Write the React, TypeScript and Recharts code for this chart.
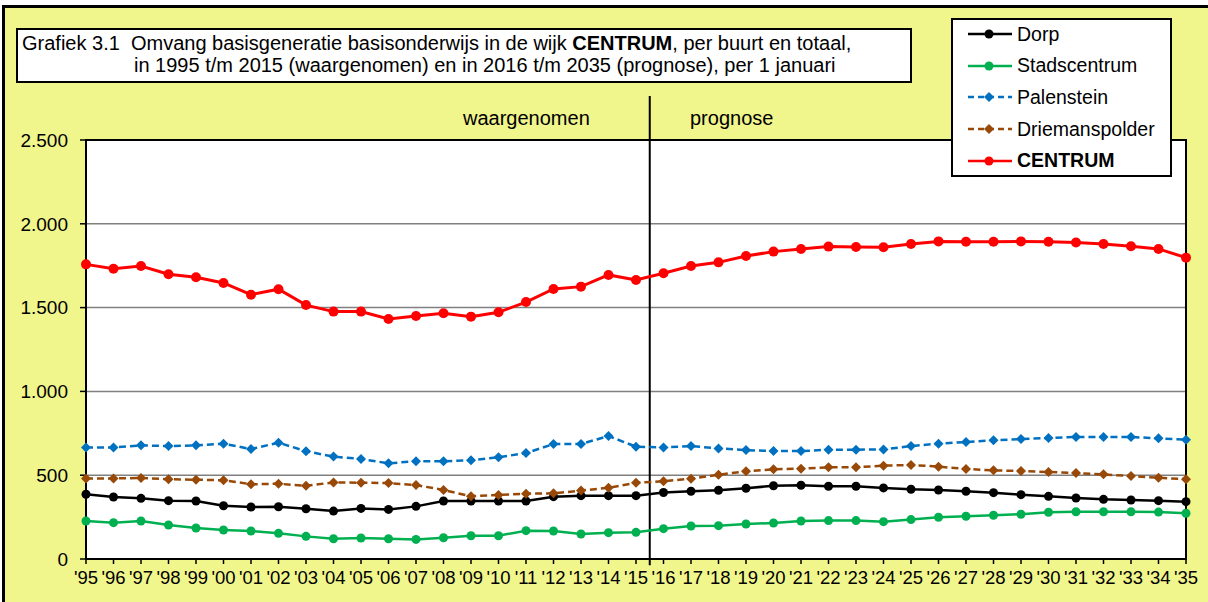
import React from "react";
import {
  LineChart,
  Line,
  XAxis,
  YAxis,
  CartesianGrid,
  ReferenceLine,
  ReferenceArea,
} from "recharts";

const YEAR_LABELS = [
  "'95", "'96", "'97", "'98", "'99", "'00", "'01", "'02", "'03", "'04",
  "'05", "'06", "'07", "'08", "'09", "'10", "'11", "'12", "'13", "'14",
  "'15", "'16", "'17", "'18", "'19", "'20", "'21", "'22", "'23", "'24",
  "'25", "'26", "'27", "'28", "'29", "'30", "'31", "'32", "'33", "'34", "'35",
];

const DORP = [
  386, 370, 362, 348, 346, 318, 310, 312, 300, 286,
  302, 296, 314, 346, 346, 346, 346, 372, 378, 378, 378,
  397, 404, 410, 422, 437, 440, 434, 434, 424, 416,
  412, 404, 396, 384, 374, 364, 356, 352, 348, 342,
];
const STADSCENTRUM = [
  227, 217, 227, 203, 185, 173, 167, 153, 135, 121,
  125, 121, 117, 127, 139, 139, 169, 167, 149, 157, 159,
  181, 197, 199, 209, 215, 227, 229, 229, 223, 235,
  249, 255, 261, 267, 279, 282, 282, 282, 280, 273,
];
const PALENSTEIN = [
  666, 666, 678, 674, 678, 688, 656, 694, 643, 611,
  597, 571, 583, 583, 589, 607, 632, 686, 686, 734, 670,
  666, 674, 660, 650, 644, 644, 652, 652, 654, 674,
  688, 698, 708, 716, 722, 728, 728, 728, 720, 712,
];
const DRIEMANSPOLDER = [
  481, 481, 483, 476, 473, 470, 446, 449, 437, 457,
  455, 453, 441, 412, 374, 382, 390, 392, 408, 425, 455,
  464, 479, 503, 523, 535, 539, 547, 547, 557, 561,
  551, 537, 529, 525, 519, 513, 505, 495, 485, 476,
];
const CENTRUM = [
  1758, 1732, 1748, 1699, 1681, 1647, 1577, 1610, 1515, 1476,
  1476, 1432, 1450, 1466, 1446, 1472, 1533, 1611, 1625, 1695, 1665,
  1705, 1748, 1770, 1808, 1834, 1850, 1864, 1862, 1860, 1880,
  1895, 1893, 1893, 1895, 1893, 1888, 1880, 1866, 1850, 1798,
];

const Y_TICKS = [0, 500, 1000, 1500, 2000, 2500];
const LAST_OBSERVED = 20; // index of '15

const data = YEAR_LABELS.map((label, i) => ({
  i,
  label,
  dorp: DORP[i],
  stad: STADSCENTRUM[i],
  palen: PALENSTEIN[i],
  dries: DRIEMANSPOLDER[i],
  centrum: CENTRUM[i],
}));

const FONT = '"Liberation Sans", Arial, Helvetica, sans-serif';
const BG = "#F0F58C";

const SERIES = [
  { key: "dorp", name: "Dorp", color: "#000000", dashed: false, diamond: false, bold: false },
  { key: "stad", name: "Stadscentrum", color: "#00B050", dashed: false, diamond: false, bold: false },
  { key: "palen", name: "Palenstein", color: "#0070C0", dashed: true, diamond: true, bold: false },
  { key: "dries", name: "Driemanspolder", color: "#984807", dashed: true, diamond: true, bold: false },
  { key: "centrum", name: "CENTRUM", color: "#FF0000", dashed: false, diamond: false, bold: true },
];

const fmt = (v: number) => String(v).replace(/\B(?=(\d{3})+(?!\d))/g, ".");

function diamondDot(color: string) {
  return (props: any) => {
    const { cx, cy, index } = props;
    if (cx == null || cy == null) return <g key={`e-${index}`} />;
    const r = 5;
    return (
      <path
        key={`dm-${color}-${index}`}
        d={`M${cx},${cy - r}L${cx + r},${cy}L${cx},${cy + r}L${cx - r},${cy}Z`}
        fill={color}
        stroke="none"
      />
    );
  };
}

function LegendBox() {
  return (
    <div
      style={{
        position: "absolute",
        left: 951,
        top: 18,
        width: 217,
        height: 155,
        border: "2px solid #000",
        background: "#fff",
        fontFamily: FONT,
        fontSize: 19.5,
      }}
    >
      {SERIES.map((s, i) => (
        <div
          key={s.key}
          style={{
            position: "absolute",
            left: 14,
            top: i * 31.7,
            height: 28,
            display: "flex",
            alignItems: "center",
          }}
        >
          <svg width={46} height={14} style={{ marginRight: 4 }}>
            <line
              x1={1}
              x2={45}
              y1={7}
              y2={7}
              stroke={s.color}
              strokeWidth={2.5}
              strokeDasharray={s.dashed ? "6 4" : undefined}
            />
            {s.diamond ? (
              <path d="M22,2L27,7L22,12L17,7Z" fill={s.color} />
            ) : (
              <circle cx={22} cy={7} r={4.5} fill={s.color} />
            )}
          </svg>
          <span style={{ fontWeight: s.bold ? "bold" : "normal" }}>{s.name}</span>
        </div>
      ))}
    </div>
  );
}

export default function App() {
  return (
    <div
      style={{
        position: "absolute",
        left: 0,
        top: 0,
        width: 1208,
        height: 602,
        background: "#fff",
        overflow: "hidden",
        fontFamily: FONT,
      }}
    >
      <div
        style={{
          position: "absolute",
          left: 2,
          top: 5,
          width: 1220,
          height: 620,
          border: "3px solid #000",
          background: BG,
        }}
      />
      <div style={{ position: "absolute", left: 0, top: 0 }}>
        <LineChart
          width={1208}
          height={602}
          data={data}
          margin={{ top: 140, right: 22, bottom: 0, left: 6 }}
        >
          <CartesianGrid
            horizontal
            vertical={false}
            stroke="#808080"
            strokeWidth={1.5}
            fill="#ffffff"
            fillOpacity={1}
          />
          <XAxis
            dataKey="i"
            type="number"
            domain={[0, YEAR_LABELS.length - 1]}
            ticks={data.map((d) => d.i)}
            interval={0}
            tickFormatter={(v: number) => YEAR_LABELS[v] ?? ""}
            height={43}
            tickSize={5}
            tickMargin={7}
            axisLine={{ stroke: "#000", strokeWidth: 2 }}
            tickLine={{ stroke: "#000", strokeWidth: 1.5 }}
            tick={{ fill: "#000", fontSize: 18.5, fontFamily: FONT }}
          />
          <YAxis
            domain={[0, 2500]}
            ticks={Y_TICKS}
            interval={0}
            width={80}
            tickFormatter={fmt}
            tickSize={6}
            tickMargin={12}
            axisLine={{ stroke: "#000", strokeWidth: 2 }}
            tickLine={{ stroke: "#000", strokeWidth: 1.5 }}
            tick={{ fill: "#000", fontSize: 19, fontFamily: FONT }}
          />
          <ReferenceArea
            x1={0}
            x2={YEAR_LABELS.length - 1}
            y1={0}
            y2={2500}
            fill="none"
            fillOpacity={0}
            stroke="#000"
            strokeWidth={2}
            ifOverflow="visible"
          />
          <ReferenceLine
            segment={[
              { x: LAST_OBSERVED + 0.5, y: -38 },
              { x: LAST_OBSERVED + 0.5, y: 2762 },
            ]}
            stroke="#000"
            strokeWidth={2}
            ifOverflow="visible"
          />
          {SERIES.map((s) => (
            <Line
              key={s.key}
              dataKey={s.key}
              name={s.name}
              stroke={s.color}
              strokeWidth={s.key === "centrum" ? 3 : 2.5}
              strokeDasharray={s.dashed ? "7 4" : undefined}
              dot={
                s.diamond
                  ? diamondDot(s.color)
                  : { r: s.key === "centrum" ? 5 : 4.5, fill: s.color, stroke: "none" }
              }
              activeDot={false}
              isAnimationActive={false}
            />
          ))}
        </LineChart>
      </div>

      <div
        style={{
          position: "absolute",
          left: 16,
          top: 28,
          width: 892,
          height: 49,
          border: "2px solid #000",
          background: "#fff",
          fontSize: 20,
          lineHeight: "22px",
          color: "#000",
          paddingTop: 2,
          boxSizing: "content-box",
        }}
      >
        <div style={{ paddingLeft: 4, whiteSpace: "pre" }}>
          {"Grafiek 3.1  Omvang basisgeneratie basisonderwijs in de wijk "}
          <b>CENTRUM</b>
          {", per buurt en totaal,"}
        </div>
        <div style={{ paddingLeft: 116, whiteSpace: "pre" }}>
          in 1995 t/m 2015 (waargenomen) en in 2016 t/m 2035 (prognose), per 1 januari
        </div>
      </div>

      <div
        style={{
          position: "absolute",
          left: 463,
          top: 106,
          fontSize: 20,
          lineHeight: "24px",
        }}
      >
        waargenomen
      </div>
      <div
        style={{
          position: "absolute",
          left: 690,
          top: 106,
          fontSize: 20,
          lineHeight: "24px",
        }}
      >
        prognose
      </div>

      <LegendBox />
    </div>
  );
}
